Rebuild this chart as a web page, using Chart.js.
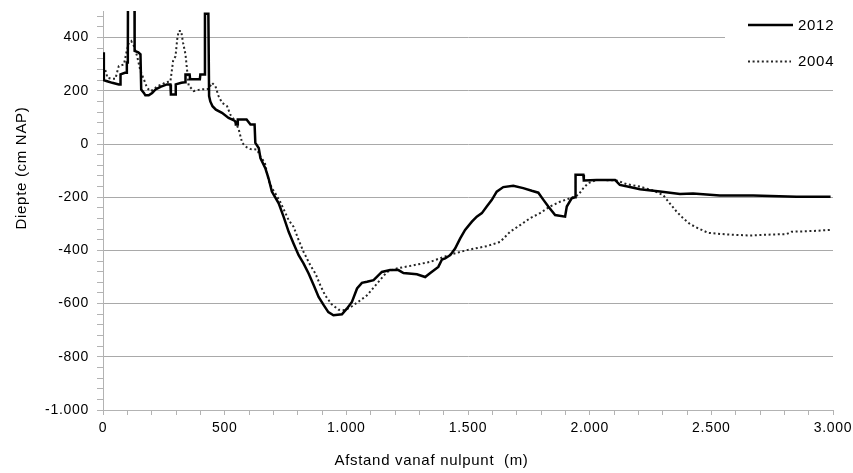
<!DOCTYPE html>
<html>
<head>
<meta charset="utf-8">
<script src="https://cdn.jsdelivr.net/npm/chart.js@4.4.1/dist/chart.umd.min.js"></script>
<style>
  html, body { margin: 0; padding: 0; background: #fff; }
  #wrap { width: 853px; height: 473px; }
</style>
</head>
<body>
<div id="wrap"><canvas id="c" width="853" height="473"></canvas></div>
<script>
// ---- data ----
const seriesNames = ['2012', '2004'];

const dist2012 = [0,3,4,17,38,65,70,72,90,96,98,102,103,129,130,145,154,157,168,174,188,202,216,236,263,277,279,297,299,322,337,339,356,358,398,400,417,419,433,436,441,450,464,489,516,536,544,546,552,554,590,606,623,626,640,647,667,680,694,722,742,763,783,804,824,845,866,886,907,926,947,982,1002,1023,1044,1064,1085,1112,1146,1180,1214,1235,1290,1324,1345,1378,1393,1406,1427,1447,1468,1488,1516,1536,1557,1577,1598,1618,1645,1686,1727,1762,1789,1810,1830,1858,1899,1906,1926,1940,1942,1974,1976,2029,2104,2124,2165,2207,2289,2371,2425,2535,2672,2850,2990];
const depth2012 = [345,345,240,236,230,224,224,262,268,268,306,306,700,700,350,345,337,205,192,183,183,192,205,215,224,224,186,186,224,230,232,261,261,243,243,261,261,490,490,180,160,142,129,117,98,90,85,73,73,92,92,73,73,4,-15,-53,-91,-128,-179,-223,-273,-330,-374,-418,-449,-487,-531,-575,-606,-632,-644,-640,-619,-594,-543,-522,-518,-512,-481,-474,-474,-485,-490,-500,-485,-462,-434,-430,-418,-393,-355,-323,-292,-273,-260,-235,-210,-179,-162,-157,-166,-176,-183,-210,-235,-267,-273,-235,-204,-200,-116,-116,-137,-135,-135,-154,-162,-170,-179,-188,-186,-194,-194,-198,-198];

const dist2004 = [0,8,14,17,34,51,58,65,86,96,106,116,127,140,154,168,181,195,209,222,243,257,277,288,298,305,311,321,329,339,346,352,373,400,434,448,462,475,489,510,523,544,558,572,590,606,633,647,665,680,694,708,728,763,783,804,824,852,873,893,913,940,968,995,1023,1057,1085,1126,1167,1207,1276,1345,1420,1495,1577,1632,1673,1714,1755,1796,1837,1878,1919,1953,1974,1994,2029,2111,2152,2207,2261,2302,2330,2357,2384,2412,2446,2487,2562,2658,2754,2809,2829,2918,2990];
const depth2004 = [293,280,268,250,245,245,270,293,299,343,381,387,368,331,274,243,211,199,205,217,224,232,235,312,330,394,425,425,381,337,274,220,199,205,207,230,217,180,155,142,111,85,54,4,-12,-19,-21,-47,-70,-135,-166,-185,-217,-286,-311,-361,-405,-456,-487,-531,-569,-603,-623,-625,-610,-588,-569,-525,-481,-468,-456,-443,-418,-399,-384,-368,-330,-305,-279,-260,-235,-217,-204,-192,-166,-147,-135,-137,-151,-160,-175,-192,-224,-254,-279,-301,-317,-334,-340,-344,-340,-339,-330,-327,-323];

const xTitle = 'Afstand vanaf nulpunt  (m)';
const yTitle = 'Diepte (cm NAP)';
const xMin = 0, xMax = 3000, xMinorStep = 100, xLabelStep = 500;
const yMin = -1000, yMax = 500, yMinorStep = 40, yLabelStep = 200;

// ---- helpers ----
function fmtNL(v) {
  const neg = v < 0;
  let s = String(Math.abs(Math.round(v)));
  s = s.replace(/\B(?=(\d{3})+(?!\d))/g, '.');
  return (neg ? '-' : '') + s;
}
function pts(xs, ys) { return xs.map((x, i) => ({ x: x, y: ys[i] })); }

const FONT = "'Liberation Sans', Arial, Helvetica, sans-serif";
const LS = '0.7px';
const GRID = '#a9a9a9';
const AXIS = '#b3b3b3';
const DOT = '#262626';

Chart.defaults.font.family = FONT;
Chart.defaults.color = '#000';

const deco = {
  id: 'deco',
  beforeUpdate(c) { c.ctx.letterSpacing = LS; },
  beforeLayout(c) { c.ctx.letterSpacing = LS; },
  beforeDraw(c) { c.ctx.letterSpacing = LS; },
  afterDatasetsDraw(c) {
    const ctx = c.ctx;
    ctx.save();
    ctx.fillStyle = '#fff';
    ctx.fillRect(725, 6, 128, 74);
    ctx.strokeStyle = '#000';
    ctx.lineWidth = 2.5;
    ctx.setLineDash([]);
    ctx.beginPath(); ctx.moveTo(748, 25); ctx.lineTo(793, 25); ctx.stroke();
    ctx.strokeStyle = DOT;
    ctx.lineWidth = 2;
    ctx.setLineDash([2, 2.6]);
    ctx.beginPath(); ctx.moveTo(748, 61.5); ctx.lineTo(791, 61.5); ctx.stroke();
    ctx.setLineDash([]);
    ctx.letterSpacing = LS;
    ctx.fillStyle = '#000';
    ctx.font = '15px ' + FONT;
    ctx.textAlign = 'left';
    ctx.textBaseline = 'middle';
    ctx.fillText(seriesNames[0], 798, 25.5);
    ctx.fillText(seriesNames[1], 798, 61.5);
    ctx.restore();
  },
  afterDraw(c) {
    const ctx = c.ctx;
    ctx.save();
    ctx.letterSpacing = LS;
    ctx.fillStyle = '#000';
    ctx.font = '15px ' + FONT;
    ctx.textAlign = 'center';
    ctx.textBaseline = 'middle';
    ctx.fillText(xTitle, 431.5, 461);
    ctx.translate(21.5, 168);
    ctx.rotate(-Math.PI / 2);
    ctx.fillText(yTitle, 0, 0);
    ctx.restore();
  }
};

new Chart(document.getElementById('c'), {
  type: 'line',
  data: {
    datasets: [
      {
        label: seriesNames[0],
        data: pts(dist2012, depth2012),
        borderColor: '#000',
        borderWidth: 2.5,
        borderJoinStyle: 'miter',
        pointRadius: 0,
        tension: 0,
        fill: false
      },
      {
        label: seriesNames[1],
        data: pts(dist2004, depth2004),
        borderColor: DOT,
        borderWidth: 2,
        borderDash: [2, 2.6],
        pointRadius: 0,
        tension: 0,
        fill: false
      }
    ]
  },
  options: {
    responsive: false,
    animation: false,
    devicePixelRatio: 1,
    layout: { padding: { left: 0, right: 20, top: 11, bottom: 0 } },
    plugins: { legend: { display: false }, tooltip: { enabled: false } },
    scales: {
      x: {
        type: 'linear',
        min: xMin, max: xMax,
        afterBuildTicks(s) {
          const t = [];
          for (let v = xMin; v <= xMax; v += xMinorStep) t.push({ value: v });
          s.ticks = t;
        },
        afterFit(s) { s.height = 63; s.paddingLeft = 0; s.paddingRight = 0; },
        grid: { drawOnChartArea: false, drawTicks: true, tickLength: 5, tickColor: AXIS, color: AXIS },
        border: { display: true, color: AXIS, width: 1 },
        ticks: {
          autoSkip: false, maxRotation: 0, minRotation: 0, padding: 5,
          font: { size: 14 }, color: '#000',
          callback: (v) => (v % xLabelStep === 0 ? fmtNL(v) : '')
        }
      },
      y: {
        type: 'linear',
        min: yMin, max: yMax,
        afterBuildTicks(s) {
          const t = [];
          for (let v = yMin; v < yMax; v += yMinorStep) t.push({ value: v });
          s.ticks = t;
        },
        afterFit(s) { s.width = 103; s.paddingTop = 0; s.paddingBottom = 0; },
        grid: {
          drawTicks: true, tickLength: 6, tickColor: AXIS,
          color: (ctx) => (ctx.tick && ctx.tick.value % yLabelStep === 0 ? GRID : 'rgba(0,0,0,0)'),
          lineWidth: 1
        },
        border: { display: true, color: AXIS, width: 1 },
        ticks: {
          autoSkip: false, padding: 8,
          font: { size: 14 }, color: '#000',
          callback: (v) => (v % yLabelStep === 0 ? fmtNL(v) : '')
        }
      }
    }
  },
  plugins: [deco]
});
</script>
</body>
</html>
